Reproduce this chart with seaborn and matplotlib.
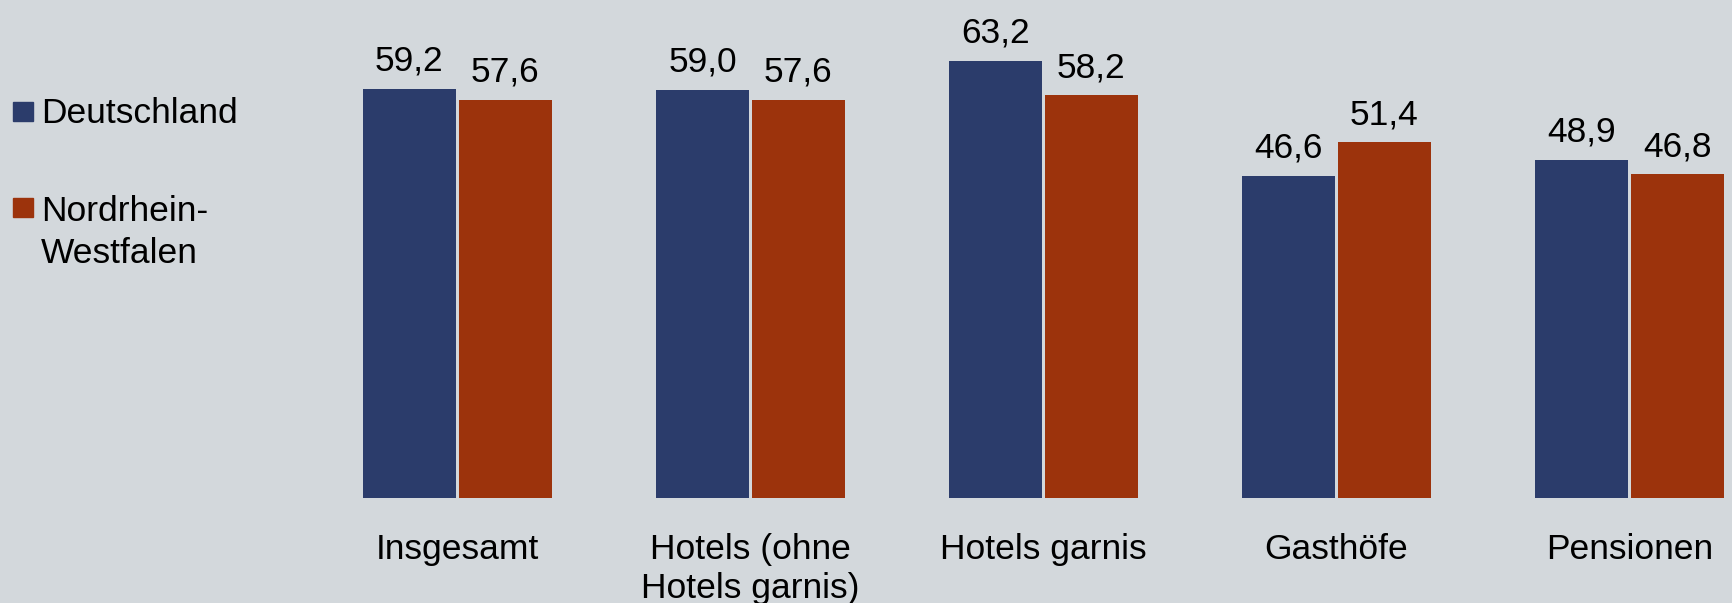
import matplotlib.pyplot as plt
import seaborn as sns
import pandas as pd
from matplotlib.patches import Rectangle

categories = ["Insgesamt", "Hotels (ohne\nHotels garnis)", "Hotels garnis", "Gasthöfe", "Pensionen"]
deutschland = [59.2, 59.0, 63.2, 46.6, 48.9]
nrw = [57.6, 57.6, 58.2, 51.4, 46.8]
series = ["Deutschland", "Nordrhein-\nWestfalen"]

BG = "#D3D8DC"
BLUE = "#2B3C6B"
ORANGE = "#9C330C"

df = pd.DataFrame({
    "Kategorie": categories * 2,
    "Wert": deutschland + nrw,
    "Region": [series[0]] * len(categories) + [series[1]] * len(categories),
})

sns.set_style("white")
plt.rcParams["font.family"] = ["Liberation Sans", "DejaVu Sans"]

fig = plt.figure(figsize=(17.32, 6.03), dpi=100, facecolor=BG)
ax = fig.add_axes([0, 0.1741, 1, 0.8259])
ax.set_facecolor(BG)

sns.barplot(
    data=df, x="Kategorie", y="Wert", hue="Region",
    palette=[BLUE, ORANGE], width=0.655, gap=0.025,
    legend=False, ax=ax, saturation=1, linewidth=0,
)

for cont in ax.containers:
    vals = [b.get_height() for b in cont]
    ax.bar_label(cont, labels=[f"{v:.1f}".replace(".", ",") for v in vals],
                 padding=8, fontsize=25.5, color="black")

ax.set_xlim(-1.561, 4.350)
ax.set_ylim(0, 72.0)
ax.set_xlabel("")
ax.set_ylabel("")
ax.set_yticks([])
ax.tick_params(axis="x", length=0, pad=25.5, labelsize=25.5, colors="black")
for s in ax.spines.values():
    s.set_visible(False)

# legend on the left
fig.add_artist(Rectangle((0.0075, 0.7993), 0.01155, 0.0315,
                         transform=fig.transFigure, color=BLUE))
fig.add_artist(Rectangle((0.0075, 0.640), 0.01155, 0.0315,
                         transform=fig.transFigure, color=ORANGE))
fig.text(0.0237, 0.796, series[0], fontsize=25.5, va="baseline", ha="left", color="black")
fig.text(0.0237, 0.677, series[1], fontsize=25.5, va="top", ha="left",
         linespacing=1.35, color="black")

fig.savefig("out.png", dpi=100, facecolor=BG)
